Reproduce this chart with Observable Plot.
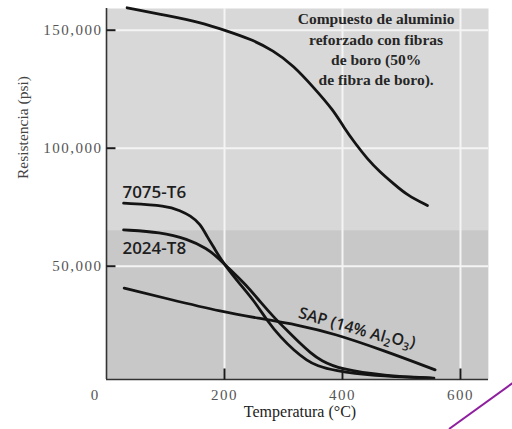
<!DOCTYPE html>
<html>
<head>
<meta charset="utf-8">
<script src="https://cdn.jsdelivr.net/npm/d3@7"></script>
<script src="https://cdn.jsdelivr.net/npm/@observablehq/plot@0.6"></script>
<style>
  body { margin: 0; background: #fff; }
  #wrap { position: relative; width: 512px; height: 429px; }
  #overlay { position: absolute; left: 0; top: 0; pointer-events: none; }
  g[aria-label="y-axis tick label"] text,
  g[aria-label="x-axis tick label"] text { letter-spacing: 1.5px; }
</style>
</head>
<body>
<div id="wrap"></div>
<script>
// ---- data ----
const xTicks = [200, 400, 600];
const xZeroLabel = ["0"];
const yTicks = [50000, 100000, 150000];
const xDomain = [0, 647.5];
const yDomain = [2000, 159200];

const boronTemp = [35, 103, 159, 204, 244, 283, 317, 351, 385, 402, 422, 442, 464, 487, 510, 544];
const boronStrength = [159500, 156200, 153400, 149700, 146300, 141400, 135000, 125800, 116000, 108900, 101900, 95500, 89800, 84900, 80000, 75700];

const t7075Temp = [29, 103, 125, 142, 159, 171, 182, 193, 221, 250, 272, 295, 318, 340, 357, 385, 450, 550];
const t7075Strength = [76700, 75700, 73500, 71500, 68000, 62300, 58000, 53100, 43900, 35500, 27000, 19900, 14300, 10000, 7800, 5800, 3500, 2600];

const t2024Temp = [29, 92, 137, 171, 188, 210, 237, 262, 285, 306, 329, 345, 363, 397, 470, 555];
const t2024Strength = [65400, 64400, 61600, 57400, 53800, 48500, 42000, 34500, 28000, 22800, 17100, 13500, 10000, 6300, 3600, 2600];

const sapTemp = [30, 103, 199, 255, 329, 385, 470, 557];
const sapStrength = [40700, 36200, 30500, 28100, 24900, 21500, 14300, 6100];

const seriesNames = ["boro", "7075-T6", "2024-T8", "SAP"];
const labelTexts = ["7075-T6", "2024-T8"];
const labelTemp = [27, 27];
const labelStrength = [81400, 57400];
const sapLabel = "SAP (14% Al2O3)";
const sapLabelTemp = 424;
const sapLabelStrength = 23300;
const boxText = "Compuesto de aluminio\nreforzado con fibras\nde boro (50%\nde fibra de boro).";
const boxTemp = 457;
const boxStrength = 158600;
const shadeTop = 65000;

// ---- build tables ----
const toRows = (name, ts, ss) => ts.map((t, i) => ({series: name, temp: t, strength: ss[i]}));
const curves = [
  toRows(seriesNames[0], boronTemp, boronStrength),
  toRows(seriesNames[1], t7075Temp, t7075Strength),
  toRows(seriesNames[2], t2024Temp, t2024Strength),
  toRows(seriesNames[3], sapTemp, sapStrength)
];
const labels = labelTexts.map((s, i) => ({text: s, temp: labelTemp[i], strength: labelStrength[i]}));
const yTickRows = yTicks.map(v => ({v}));
const xTickRows = xTicks.map(v => ({v}));

const serif = "Liberation Serif";
const sans = "Open Sans";
const W = 512, H = 429, ML = 106, MR = 24, MT = 8, MB = 50;
const plotW = W - ML - MR, plotH = H - MT - MB;
// tick lengths (pixels) expressed in data units for inward ticks
const yTickLenData = 9 * (xDomain[1] - xDomain[0]) / plotW;
const xTickLenData = 11 * (yDomain[1] - yDomain[0]) / plotH;

const chart = Plot.plot({
  width: W,
  height: H,
  marginLeft: ML,
  marginRight: MR,
  marginTop: MT,
  marginBottom: MB,
  x: {domain: xDomain},
  y: {domain: yDomain},
  style: {background: "white", fontFamily: serif},
  marks: [
    Plot.frame({fill: "#d8d8d8", stroke: "none"}),
    Plot.rect([{y1: yDomain[0], y2: shadeTop}], {y1: "y1", y2: "y2", fill: "#c8c8c8"}),
    Plot.gridX(xTicks, {stroke: "#f4f4f4", strokeOpacity: 1, strokeWidth: 2}),
    Plot.gridY(yTicks, {stroke: "#f4f4f4", strokeOpacity: 1, strokeWidth: 2}),
    ...curves.map(rows => Plot.line(rows, {
      x: "temp", y: "strength", curve: "basis",
      stroke: "#141414", strokeWidth: 2.8, strokeLinecap: "round"
    })),
    Plot.ruleX([xDomain[0]], {stroke: "#333", strokeWidth: 1.6}),
    Plot.ruleY([yDomain[0]], {stroke: "#333", strokeWidth: 1.6}),
    // inward tick marks
    Plot.link(yTickRows, {
      x1: () => xDomain[0], x2: () => xDomain[0] + yTickLenData, y1: "v", y2: "v",
      stroke: "#1a1a1a", strokeWidth: 2
    }),
    Plot.link(xTickRows, {
      x1: "v", x2: "v", y1: () => yDomain[0], y2: () => yDomain[0] + xTickLenData,
      stroke: "#1a1a1a", strokeWidth: 2
    }),
    Plot.axisY(yTicks, {
      tickSize: 0, tickPadding: 4, tickFormat: d3.format(","), label: null,
      fontSize: 15, fill: "#555", fontFamily: serif
    }),
    Plot.axisX(xTicks, {
      tickSize: 0, tickPadding: 10, label: null,
      fontSize: 15, fill: "#555", fontFamily: serif
    }),
    Plot.text(xZeroLabel, {
      x: () => xDomain[0], frameAnchor: "bottom", text: d => d, dx: -12, dy: 10,
      lineAnchor: "top", fontSize: 15, fill: "#555", fontFamily: serif
    }),
    Plot.text(["Temperatura (°C)"], {
      frameAnchor: "bottom", text: d => d, dx: 2.5, dy: 37.5,
      fontSize: 16, fill: "#222", fontFamily: serif
    }),
    Plot.text(["Resistencia (psi)"], {
      frameAnchor: "left", text: d => d, rotate: -90, dx: -83, dy: -15,
      fontSize: 15.5, fill: "#444", fontFamily: serif
    }),
    Plot.text(labels, {
      x: "temp", y: "strength", text: "text", textAnchor: "start",
      fontSize: 17, fontWeight: 600, fill: "#1e1e1e", fontFamily: sans
    }),
    Plot.text([sapLabel], {
      x: () => sapLabelTemp, y: () => sapLabelStrength, text: d => d, rotate: 16,
      fontSize: 16, fontWeight: 600, fill: "#1e1e1e", fontFamily: sans
    }),
    Plot.text([boxText], {
      x: () => boxTemp, y: () => boxStrength, text: d => d, lineAnchor: "top",
      lineHeight: 1.31, fontSize: 15.5, fontWeight: "bold", fill: "#262626", fontFamily: serif
    })
  ]
});

// subscripts in Al2O3
d3.select(chart).selectAll("text").filter(function() { return this.textContent === sapLabel; })
  .each(function() {
    const t = d3.select(this);
    t.text(null);
    t.append("tspan").text("SAP (14% Al");
    t.append("tspan").attr("dy", "0.3em").attr("font-size", "0.7em").text("2");
    t.append("tspan").attr("dy", "-0.3em").text("O");
    t.append("tspan").attr("dy", "0.3em").attr("font-size", "0.7em").text("3");
    t.append("tspan").attr("dy", "-0.3em").text(")");
  });

document.getElementById("wrap").appendChild(chart);

// stray pen stroke at the bottom-right corner of the scan
const ns = "http://www.w3.org/2000/svg";
const ov = document.createElementNS(ns, "svg");
ov.setAttribute("id", "overlay");
ov.setAttribute("width", "512");
ov.setAttribute("height", "429");
const ln = document.createElementNS(ns, "line");
ln.setAttribute("x1", "514"); ln.setAttribute("y1", "382");
ln.setAttribute("x2", "449"); ln.setAttribute("y2", "429");
ln.setAttribute("stroke", "#8e1f9e"); ln.setAttribute("stroke-width", "2");
ov.appendChild(ln);
document.getElementById("wrap").appendChild(ov);
</script>
</body>
</html>
